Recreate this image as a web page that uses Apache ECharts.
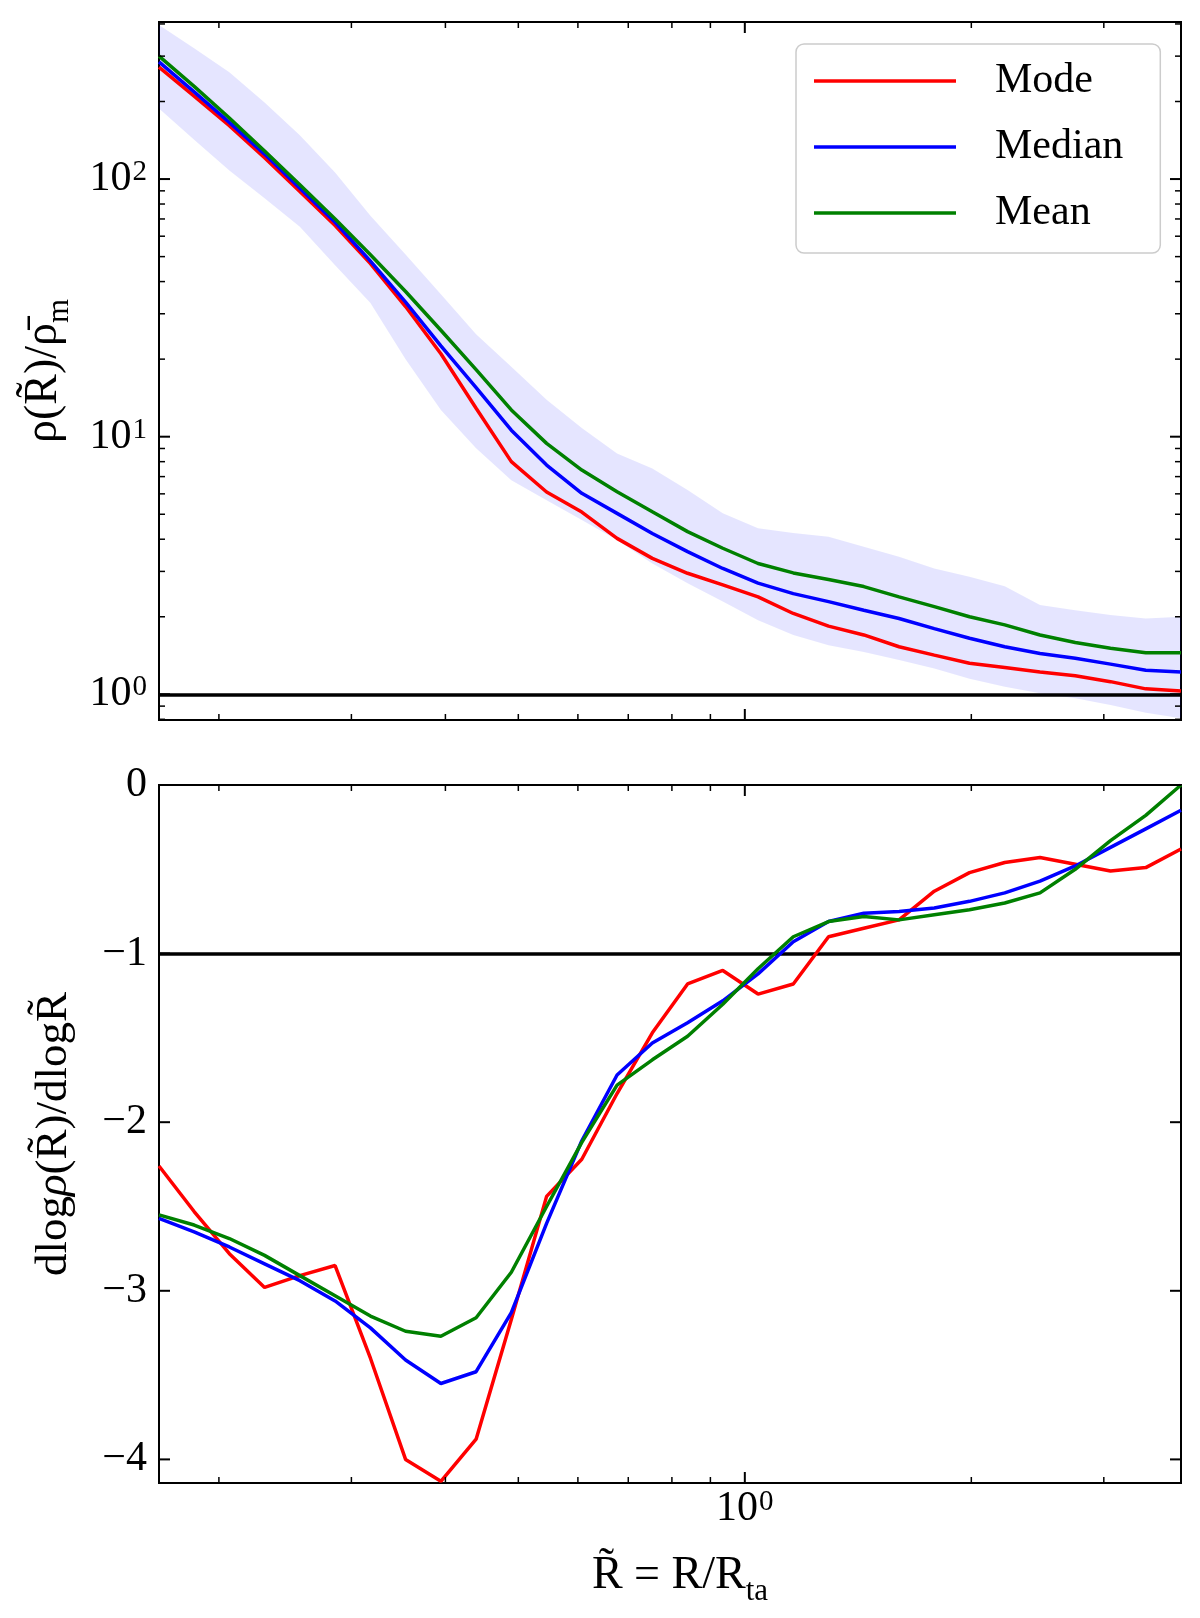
<!DOCTYPE html>
<html>
<head>
<meta charset="utf-8">
<script src="https://cdn.jsdelivr.net/npm/echarts/dist/echarts.min.js"></script>
<style>
html,body{margin:0;padding:0;background:#fff;}
#chart{width:1200px;height:1618px;}
</style>
</head>
<body>
<div id="chart"></div>
<script>
// ---- data ----
const radius = [0.1665, 0.1854, 0.2065, 0.2300, 0.2562, 0.2854, 0.3180, 0.3541, 0.3945, 0.4394,
  0.4894, 0.5452, 0.6072, 0.6764, 0.7535, 0.8393, 0.9348, 1.0413, 1.1599, 1.2920,
  1.4392, 1.6031, 1.7857, 1.9890, 2.2155, 2.4679, 2.7489, 3.0620, 3.4108, 3.7993];

const densityMode = [272, 210, 161, 121, 89.5, 66, 47, 32, 21, 12.9,
  8.0, 6.1, 5.1, 4.03, 3.37, 2.95, 2.66, 2.39, 2.06, 1.84,
  1.70, 1.53, 1.42, 1.32, 1.27, 1.22, 1.18, 1.12, 1.05, 1.03];
const densityMedian = [285, 218, 166, 125, 92.2, 68, 48, 33.3, 22.5, 15.5,
  10.6, 7.76, 6.03, 5.04, 4.21, 3.58, 3.08, 2.70, 2.46, 2.29,
  2.12, 1.97, 1.80, 1.65, 1.53, 1.44, 1.38, 1.31, 1.24, 1.22];
const densityMean = [300, 229, 172.5, 128.5, 95, 70, 50.8, 36.6, 25.9, 18.2,
  12.7, 9.42, 7.42, 6.11, 5.11, 4.28, 3.69, 3.22, 2.96, 2.79,
  2.62, 2.39, 2.19, 2.00, 1.86, 1.70, 1.59, 1.51, 1.45, 1.45];
const densityHigh = [396, 322, 260, 198, 148, 106, 72, 51, 35.7, 25.0,
  18.7, 13.9, 10.8, 8.61, 7.53, 6.21, 5.04, 4.41, 4.23, 4.09,
  3.74, 3.42, 3.08, 2.86, 2.63, 2.22, 2.12, 2.03, 1.97, 2.00];
const densityLow = [188, 142, 108, 84.3, 65.3, 46.3, 33, 20, 12.7, 9.01,
  6.78, 5.67, 4.75, 3.97, 3.22, 2.70, 2.29, 1.94, 1.70, 1.55,
  1.46, 1.36, 1.26, 1.15, 1.07, 1.01, 0.965, 0.909, 0.849, 0.807];

const slopeMode = [-2.26, -2.53, -2.78, -2.98, -2.91, -2.85, -3.40, -4.00, -4.13, -3.88,
  -3.17, -2.44, -2.22, -1.83, -1.47, -1.18, -1.10, -1.24, -1.18, -0.90,
  -0.85, -0.80, -0.63, -0.52, -0.46, -0.43, -0.47, -0.51, -0.49, -0.38];
const slopeMedian = [-2.57, -2.65, -2.74, -2.84, -2.94, -3.06, -3.22, -3.41, -3.55, -3.48,
  -3.13, -2.60, -2.11, -1.72, -1.53, -1.41, -1.28, -1.12, -0.93, -0.81,
  -0.76, -0.75, -0.73, -0.69, -0.64, -0.57, -0.48, -0.37, -0.26, -0.15];
const slopeMean = [-2.55, -2.61, -2.69, -2.79, -2.91, -3.03, -3.15, -3.24, -3.27, -3.16,
  -2.89, -2.50, -2.12, -1.78, -1.63, -1.49, -1.30, -1.09, -0.90, -0.81,
  -0.78, -0.80, -0.77, -0.74, -0.70, -0.64, -0.50, -0.33, -0.18, 0.0];

const seriesNames = ['Mode', 'Median', 'Mean'];
const xMajorTicks = [1];
const xMinorTicks = [0.2, 0.3, 0.4, 0.5, 0.6, 0.7, 0.8, 0.9, 2, 3];
const yTopMajorTicks = [1, 10, 100];
const yTopMinorTicks = [0.8, 0.9, 2, 3, 4, 5, 6, 7, 8, 9, 20, 30, 40, 50, 60, 70, 80, 90, 200, 300, 400];
const yBottomMajorTicks = [0, -1, -2, -3, -4];
const yTopRange = [0.795, 407];
const yBottomRange = [-4.14, 0];
const refDensity = 1;
const refSlope = -1;

// ---- styling ----
const FONT = 'Liberation Serif, DejaVu Serif, serif';
const COLORS = ['#ff0000', '#0000ff', '#008000'];

const pair = (ys) => radius.map((x, i) => [x, ys[i]]);

function powLabel(v) {
  const e = Math.log10(v);
  const r = Math.round(e);
  if (Math.abs(e - r) > 1e-6) return '';
  return '{b|10}{s|' + r + '}';
}
const powRich = {
  b: {fontFamily: FONT, fontSize: 42, lineHeight: 42, color: '#000', verticalAlign: 'bottom'},
  s: {fontFamily: FONT, fontSize: 29, lineHeight: 42, color: '#000', verticalAlign: 'top', padding: [0, 0, 14, 1]}
};

function tickSeries(gridIdx, yMajor, yMinor, yDummy) {
  return {
    type: 'custom', xAxisIndex: gridIdx, yAxisIndex: gridIdx, silent: true, z: 20,
    data: [[1, yDummy]],
    renderItem(params, api) {
      const cs = params.coordSys;
      const L = cs.x, R = cs.x + cs.width, T = cs.y, B = cs.y + cs.height;
      const ch = [];
      const ln = (x1, y1, x2, y2, w) => ch.push({type: 'line', shape: {x1, y1, x2, y2}, style: {stroke: '#000', lineWidth: w}});
      const addX = (v, len, w) => { const px = api.coord([v, yDummy])[0]; ln(px, B, px, B - len, w); ln(px, T, px, T + len, w); };
      const addY = (v, len, w) => { const py = api.coord([1, v])[1]; ln(L, py, L + len, py, w); ln(R, py, R - len, py, w); };
      xMajorTicks.forEach(v => addX(v, 11, 2));
      xMinorTicks.forEach(v => addX(v, 6, 1.5));
      yMajor.forEach(v => addY(v, 11, 2));
      yMinor.forEach(v => addY(v, 6, 1.5));
      return {type: 'group', children: ch};
    }
  };
}

const bandSeries = {
  type: 'custom', xAxisIndex: 0, yAxisIndex: 0, silent: true, z: 1,
  data: [[1, 1]],
  renderItem(params, api) {
    const pts = [];
    for (let i = 0; i < radius.length; i++) pts.push(api.coord([radius[i], densityHigh[i]]));
    for (let i = radius.length - 1; i >= 0; i--) pts.push(api.coord([radius[i], densityLow[i]]));
    return {type: 'polygon', shape: {points: pts}, style: {fill: 'rgba(0,0,255,0.1)', stroke: null}};
  }
};

function lineSeries(name, idx, ys, gridIdx, withRef) {
  const s = {
    name, type: 'line', xAxisIndex: gridIdx, yAxisIndex: gridIdx,
    data: pair(ys), symbol: 'none', showSymbol: false,
    lineStyle: {color: COLORS[idx], width: 3.5}, itemStyle: {color: COLORS[idx]},
    z: 5 + idx, animation: false
  };
  if (withRef !== undefined) {
    s.markLine = {
      silent: true, symbol: 'none', animation: false,
      label: {show: false},
      lineStyle: {color: '#000', width: 3.5, type: 'solid'},
      data: [{yAxis: withRef}]
    };
  }
  return s;
}

const chart = echarts.init(document.getElementById('chart'), null, {renderer: 'canvas'});
const baseAxis = {
  axisLine: {show: false}, axisTick: {show: false}, splitLine: {show: false}
};
chart.setOption({
  animation: false,
  backgroundColor: '#fff',
  grid: [
    {left: 159, top: 22, width: 1022, height: 698, show: true, borderColor: '#000', borderWidth: 2,
      backgroundColor: 'transparent', containLabel: false, outerBoundsMode: 'none'},
    {left: 159, top: 785, width: 1022, height: 698, show: true, borderColor: '#000', borderWidth: 2,
      backgroundColor: 'transparent', containLabel: false, outerBoundsMode: 'none'}
  ],
  legend: {
    data: seriesNames, orient: 'vertical', left: 796, top: 44,
    icon: 'rect', itemWidth: 142, itemHeight: 3.5, itemGap: 24,
    padding: [16, 37, 19, 18],
    backgroundColor: 'rgba(255,255,255,0.85)', borderColor: '#cccccc', borderWidth: 1.5, borderRadius: 8,
    selectedMode: false,
    textStyle: {fontFamily: FONT, fontSize: 42, lineHeight: 42, color: '#000', padding: [0, 0, 0, 34]}
  },
  xAxis: [
    Object.assign({}, baseAxis, {type: 'log', logBase: 10, gridIndex: 0, min: radius[0], max: radius[radius.length - 1],
      axisLabel: {show: false}}),
    Object.assign({}, baseAxis, {type: 'log', logBase: 10, gridIndex: 1, min: radius[0], max: radius[radius.length - 1],
      axisLabel: {show: true, margin: 5, formatter: powLabel, rich: powRich, showMinLabel: false, showMaxLabel: false},
      name: '{m|R\u0303 = R/R}{sub|ta}', nameLocation: 'middle', nameGap: 70,
      nameTextStyle: {
        padding: [0, 0, 0, 20],
        rich: {
          m: {fontFamily: FONT, fontSize: 46, lineHeight: 52, color: '#000', verticalAlign: 'top'},
          sub: {fontFamily: FONT, fontSize: 31, lineHeight: 52, color: '#000', verticalAlign: 'top', padding: [23, 0, 0, 0]}
        }
      }})
  ],
  yAxis: [
    Object.assign({}, baseAxis, {type: 'log', logBase: 10, gridIndex: 0, min: yTopRange[0], max: yTopRange[1],
      axisLabel: {show: true, margin: 12, formatter: powLabel, rich: powRich, showMinLabel: false, showMaxLabel: false},
      name: '{m|ρ(R\u0303)/ρ\u0304}{sub|m}', nameLocation: 'middle', nameGap: 86,
      nameTextStyle: {
        rich: {
          m: {fontFamily: FONT, fontSize: 46, lineHeight: 52, color: '#000', verticalAlign: 'top'},
          sub: {fontFamily: FONT, fontSize: 31, lineHeight: 52, color: '#000', verticalAlign: 'top', padding: [23, 0, 0, 0]}
        }
      }}),
    Object.assign({}, baseAxis, {type: 'value', gridIndex: 1, min: yBottomRange[0], max: yBottomRange[1],
      axisLabel: {show: true, margin: 12, fontFamily: FONT, fontSize: 42, color: '#000',
        formatter: v => (Math.abs(v - Math.round(v)) < 1e-9 ? (v < 0 ? '\u2212' + Math.round(-v) : String(Math.round(v))) : '')},
      name: '{m|dlog}{i|ρ}{m|(R\u0303)/dlogR\u0303}', nameLocation: 'middle', nameGap: 82,
      nameTextStyle: {
        rich: {
          m: {fontFamily: FONT, fontSize: 45, color: '#000'},
          i: {fontFamily: FONT, fontSize: 45, fontStyle: 'italic', color: '#000'}
        }
      }})
  ],
  series: [
    bandSeries,
    lineSeries('Mode', 0, densityMode, 0, refDensity),
    lineSeries('Median', 1, densityMedian, 0),
    lineSeries('Mean', 2, densityMean, 0),
    lineSeries('Mode', 0, slopeMode, 1, refSlope),
    lineSeries('Median', 1, slopeMedian, 1),
    lineSeries('Mean', 2, slopeMean, 1),
    tickSeries(0, yTopMajorTicks, yTopMinorTicks, 1),
    tickSeries(1, yBottomMajorTicks, [], -1)
  ]
});
</script>
</body>
</html>
